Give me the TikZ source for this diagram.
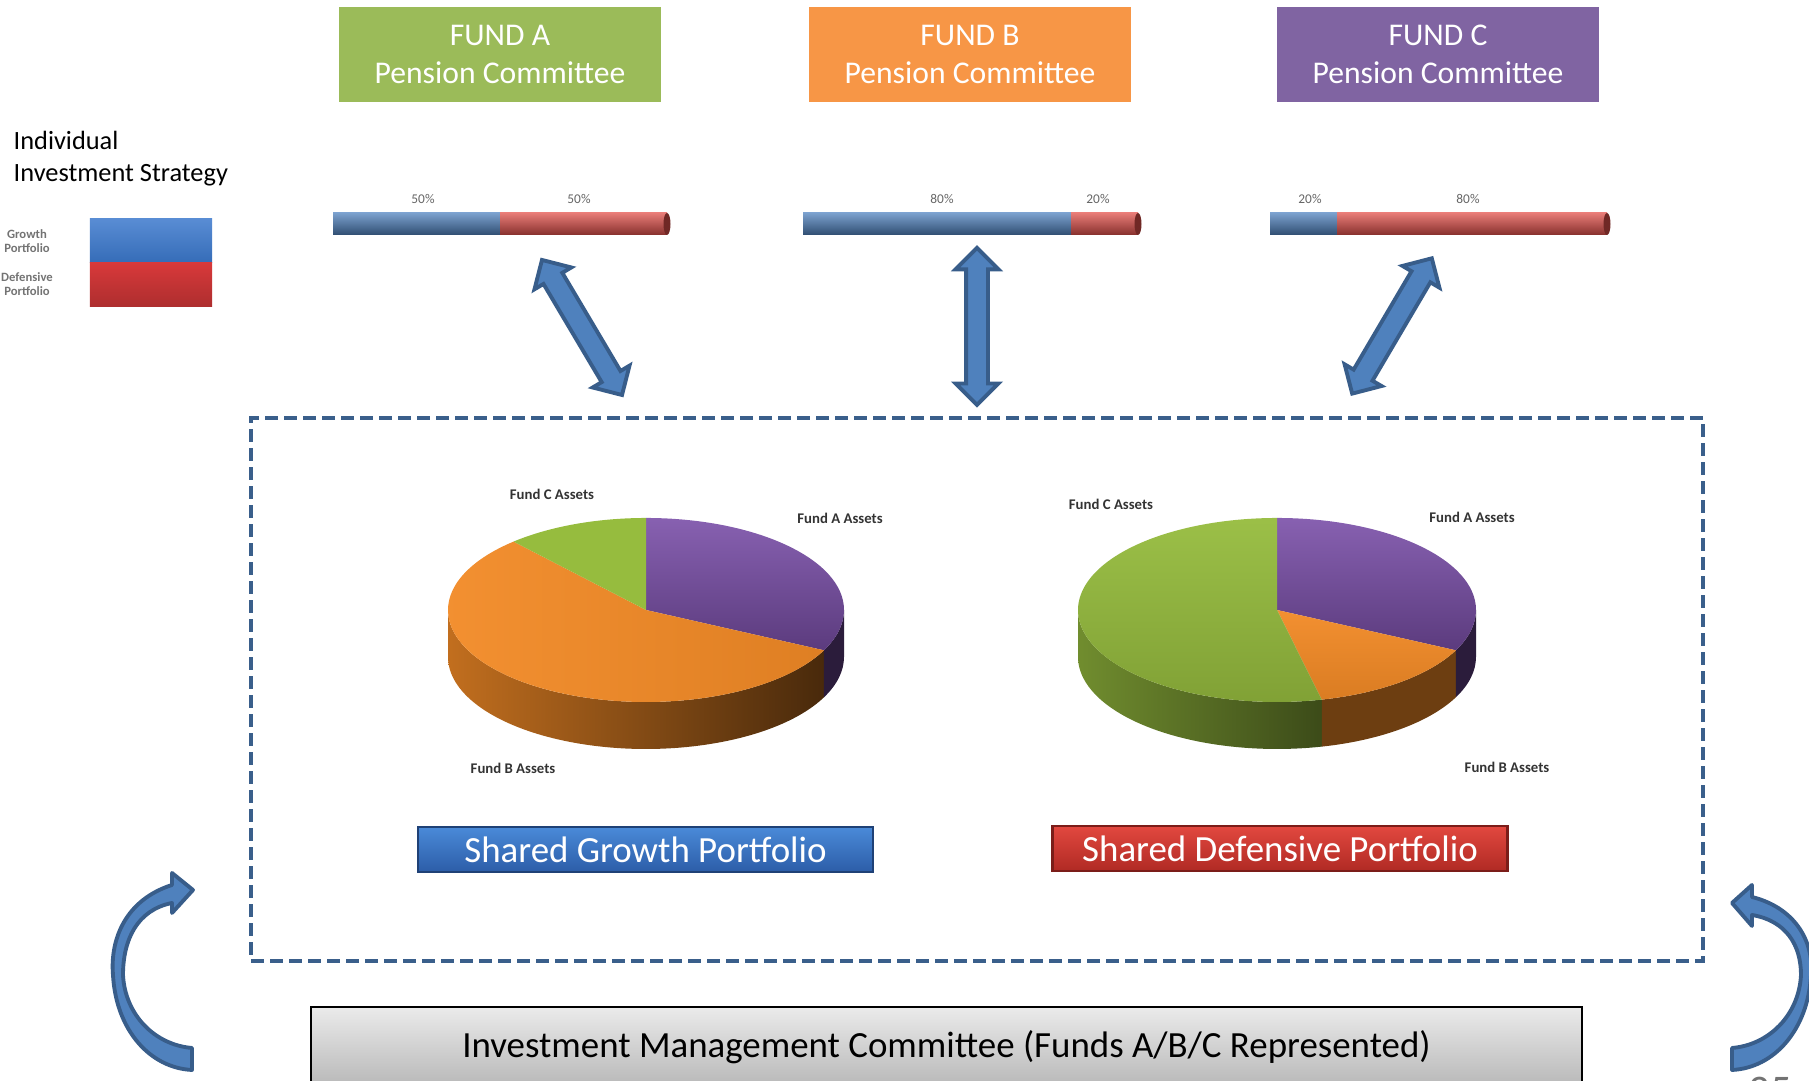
\documentclass[tikz,border=0pt]{standalone}
\usepackage{fontspec}
\setmainfont{Carlito}
\usetikzlibrary{shapes.arrows}

\definecolor{fundA}{HTML}{9BBB59}
\definecolor{fundB}{HTML}{F79646}
\definecolor{fundC}{HTML}{8064A2}
\definecolor{barBlue}{HTML}{4F81BD}
\definecolor{barRed}{HTML}{E0504A}
\definecolor{legBlue}{HTML}{3B78CC}
\definecolor{legRed}{HTML}{D8393A}
\definecolor{growthTop}{HTML}{4A8AD8}
\definecolor{growthBot}{HTML}{2C5DA8}
\definecolor{defTop}{HTML}{E2483F}
\definecolor{defBot}{HTML}{B02A24}
\definecolor{arrowFill}{HTML}{4F81BD}
\definecolor{arrowLine}{HTML}{385D8A}
\definecolor{dashLine}{HTML}{3A5F8B}
\definecolor{pieA}{HTML}{7A4FA8}
\definecolor{pieB}{HTML}{F28A26}
\definecolor{pieC}{HTML}{96BC3E}

\tikzset{
  fundbox/.style={rectangle, minimum width=3.22cm, minimum height=0.95cm, inner sep=0pt, align=center, text=white, font=\fontsize{9}{10.8}\selectfont},
  fatarrow/.style={double arrow, fill=arrowFill, draw=arrowLine, line width=1.1pt, minimum height=1.57cm, inner xsep=0pt, inner ysep=0.09cm, double arrow head extend=0.105cm, double arrow tip angle=90},
  pielabel/.style={font=\bfseries\fontsize{4.2}{5}\selectfont, text=black!80, inner sep=0pt},
  barlabel/.style={font=\fontsize{3.8}{4.5}\selectfont, text=black!60, inner sep=0pt},
  portlabel/.style={minimum width=4.55cm, minimum height=0.45cm, inner sep=0pt, text=white, font=\fontsize{10.5}{12}\selectfont, line width=0.6pt},
  bendarrow/.style={fill=arrowFill, draw=arrowLine, line width=1.1pt, line join=round}
}

\begin{document}
\begin{tikzpicture}
\path[use as bounding box, clip] (0,0) rectangle (18.09,10.81);

% committees
\node[fundbox, fill=fundA] (fundA) at (5.00,10.265) {FUND A\\Pension Committee};
\node[fundbox, fill=fundB] (fundB) at (9.70,10.265) {FUND B\\Pension Committee};
\node[fundbox, fill=fundC] (fundC) at (14.38,10.265) {FUND C\\Pension Committee};

% legend
\node[anchor=west, align=left, inner sep=0pt, font=\fontsize{7.5}{9.1}\selectfont] (strategy) at (0.13,9.22) {Individual\\Investment Strategy};
\shade[top color=legBlue!85!white, bottom color=legBlue!90!black] (0.90,8.18) rectangle (2.12,8.62);
\shade[top color=legRed, bottom color=legRed!80!black] (0.90,7.74) rectangle (2.12,8.18);
\node[align=center, inner sep=0pt, text=black!55, font=\bfseries\fontsize{3.6}{3.9}\selectfont] (legG) at (0.27,8.40) {Growth\\Portfolio};
\node[align=center, inner sep=0pt, text=black!55, font=\bfseries\fontsize{3.6}{3.9}\selectfont] (legD) at (0.27,7.97) {Defensive\\Portfolio};

% strategy bars
\foreach \xa/\xm/\xb/\va/\vb/\pa/\pb in {3.33/5.00/6.67/50/50/4.23/5.79, 8.03/10.71/11.38/80/20/9.42/10.98, 12.70/13.37/16.07/20/80/13.10/14.68}{
  \shade[top color=barBlue!75!white, middle color=barBlue, bottom color=barBlue!60!black] (\xa,8.46) rectangle (\xm,8.68);
  \shade[top color=barRed!75!white, middle color=barRed, bottom color=barRed!60!black] (\xm,8.46) rectangle (\xb,8.68);
  \fill[barRed!50!black] (\xb,8.57) ellipse[x radius=0.035, y radius=0.11];
  \node[barlabel] at (\pa,8.82) {\va\%};
  \node[barlabel] at (\pb,8.82) {\vb\%};
}

% pooled assets
\node[draw=dashLine, line width=1.4pt, dash pattern=on 0.13cm off 0.06cm, minimum width=14.52cm, minimum height=5.43cm, inner sep=0pt] (pool) at (9.77,3.915) {};

\coordinate (aA1) at (5.42,8.21);  \coordinate (aA2) at (6.22,6.86);
\coordinate (aB1) at (9.77,8.33);  \coordinate (aB2) at (9.77,6.76);
\coordinate (aC1) at (14.32,8.23); \coordinate (aC2) at (13.52,6.87);
\path (aA1) -- node[fatarrow, sloped] {} (aA2);
\path (aB1) -- node[fatarrow, sloped] {} (aB2);
\path (aC1) -- node[fatarrow, sloped] {} (aC2);

% growth pie
\begin{scope}[shift={(6.46,4.71)}]
  \shade[left color=pieB!80!black, right color=pieB!30!black] (180:1.98 and 0.92) arc[start angle=180, end angle=334, x radius=1.98, y radius=0.92] -- ++(0,-0.47) arc[start angle=334, end angle=180, x radius=1.98, y radius=0.92] -- cycle;
  \fill[pieA!35!black] (334:1.98 and 0.92) arc[start angle=334, end angle=360, x radius=1.98, y radius=0.92] -- ++(0,-0.47) arc[start angle=360, end angle=334, x radius=1.98, y radius=0.92] -- cycle;
  \shade[top color=pieA!90!white, bottom color=pieA!75!black] (0,0) -- (90:1.98 and 0.92) arc[start angle=90, end angle=-26, x radius=1.98, y radius=0.92] -- cycle;
  \shade[left color=pieB!95!white, right color=pieB!92!black] (0,0) -- (-26:1.98 and 0.92) arc[start angle=-26, end angle=-228, x radius=1.98, y radius=0.92] -- cycle;
  \fill[pieC] (0,0) -- (132:1.98 and 0.92) arc[start angle=132, end angle=90, x radius=1.98, y radius=0.92] -- cycle;
\end{scope}
\node[pielabel] (gC) at (5.52,5.87) {Fund C Assets};
\node[pielabel] (gA) at (8.40,5.63) {Fund A Assets};
\node[pielabel] (gB) at (5.13,3.13) {Fund B Assets};

% defensive pie
\begin{scope}[shift={(12.77,4.71)}]
  \shade[left color=pieC!75!black, right color=pieC!40!black] (180:1.99 and 0.92) arc[start angle=180, end angle=283, x radius=1.99, y radius=0.92] -- ++(0,-0.47) arc[start angle=283, end angle=180, x radius=1.99, y radius=0.92] -- cycle;
  \fill[pieB!45!black] (283:1.99 and 0.92) arc[start angle=283, end angle=334, x radius=1.99, y radius=0.92] -- ++(0,-0.47) arc[start angle=334, end angle=283, x radius=1.99, y radius=0.92] -- cycle;
  \fill[pieA!35!black] (334:1.99 and 0.92) arc[start angle=334, end angle=360, x radius=1.99, y radius=0.92] -- ++(0,-0.47) arc[start angle=360, end angle=334, x radius=1.99, y radius=0.92] -- cycle;
  \shade[top color=pieA!90!white, bottom color=pieA!75!black] (0,0) -- (90:1.99 and 0.92) arc[start angle=90, end angle=-26, x radius=1.99, y radius=0.92] -- cycle;
  \shade[top color=pieB!95!white, bottom color=pieB!90!black] (0,0) -- (-26:1.99 and 0.92) arc[start angle=-26, end angle=-77, x radius=1.99, y radius=0.92] -- cycle;
  \shade[top color=pieC!95!white, bottom color=pieC!85!black] (0,0) -- (-77:1.99 and 0.92) arc[start angle=-77, end angle=-270, x radius=1.99, y radius=0.92] -- cycle;
\end{scope}
\node[pielabel] (dC) at (11.11,5.77) {Fund C Assets};
\node[pielabel] (dA) at (14.72,5.64) {Fund A Assets};
\node[pielabel] (dB) at (15.07,3.14) {Fund B Assets};

\node[portlabel, top color=growthTop, bottom color=growthBot, draw=growthBot!70!black] (growth) at (6.455,2.315) {Shared Growth Portfolio};
\node[portlabel, top color=defTop, bottom color=defBot, draw=defBot!70!black] (defensive) at (12.80,2.325) {Shared Defensive Portfolio};

% investment management committee
\node[minimum width=12.71cm, minimum height=0.80cm, inner sep=0pt, top color=black!8, bottom color=black!28, draw=black, line width=0.8pt, font=\fontsize{10.5}{12}\selectfont] (imc) at (9.465,0.34) {Investment Management Committee (Funds A/B/C Represented)};

% feedback arrows
\draw[bendarrow] (1.92,0.11) .. controls (1.50,0.13) and (1.16,0.51) .. (1.13,1.06) .. controls (1.10,1.41) and (1.25,1.81) .. (1.72,1.96) -- (1.72,2.08) -- (1.93,1.91) -- (1.72,1.68) -- (1.72,1.78) .. controls (1.37,1.71) and (1.23,1.41) .. (1.23,1.06) .. controls (1.25,0.66) and (1.55,0.36) .. (1.92,0.33) -- cycle;
\draw[bendarrow] (17.32,0.11) .. controls (17.74,0.13) and (18.08,0.51) .. (18.11,1.06) .. controls (18.14,1.35) and (17.99,1.72) .. (17.52,1.84) -- (17.52,1.96) -- (17.32,1.78) -- (17.52,1.55) -- (17.52,1.66) .. controls (17.87,1.60) and (18.01,1.35) .. (18.01,1.06) .. controls (17.99,0.66) and (17.69,0.36) .. (17.32,0.33) -- cycle;

\node[anchor=north, inner sep=0pt, text=black!55, font=\fontsize{12}{14}\selectfont] (page) at (17.70,0.05) {35};
\end{tikzpicture}
\end{document}
